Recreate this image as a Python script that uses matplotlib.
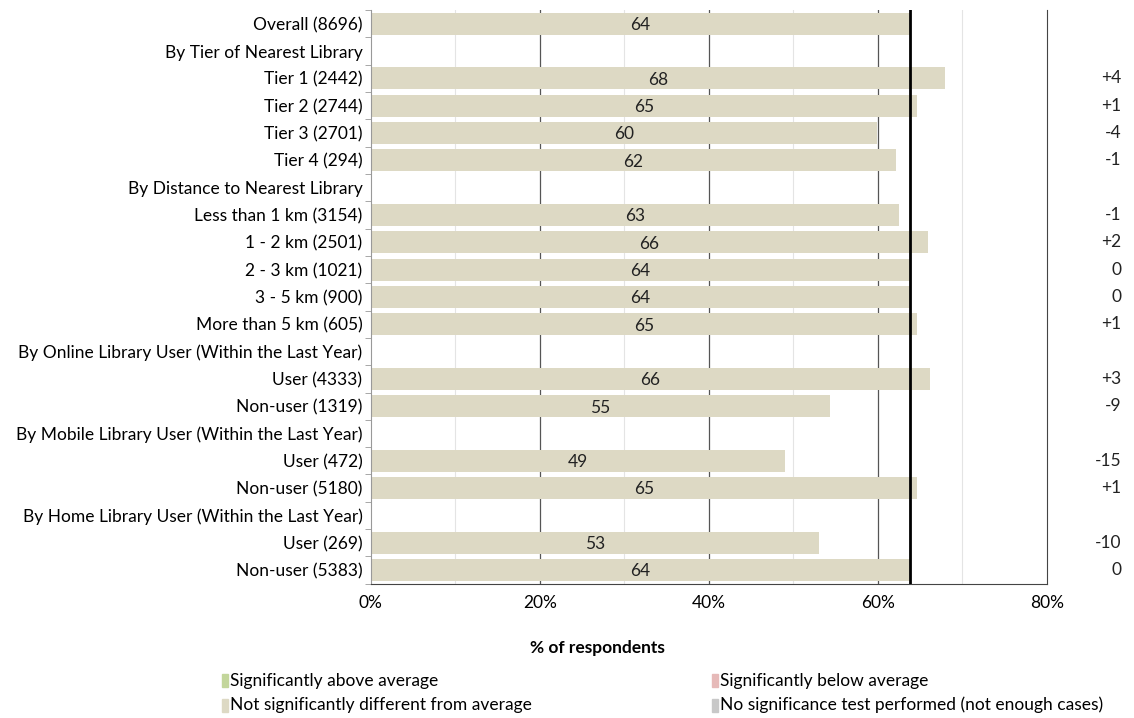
import numpy as np
import matplotlib.pyplot as plt
from matplotlib.patches import Rectangle

plt.rcParams['font.family'] = ['Lato', 'DejaVu Sans']

# rows top to bottom; None = group header row
labels = ['Overall (8696)', 'By Tier of Nearest Library',
          'Tier 1 (2442)', 'Tier 2 (2744)', 'Tier 3 (2701)', 'Tier 4 (294)',
          'By Distance to Nearest Library',
          'Less than 1 km (3154)', '1 - 2 km (2501)', '2 - 3 km (1021)',
          '3 - 5 km (900)', 'More than 5 km (605)',
          'By Online Library User (Within the Last Year)',
          'User (4333)', 'Non-user (1319)',
          'By Mobile Library User (Within the Last Year)',
          'User (472)', 'Non-user (5180)',
          'By Home Library User (Within the Last Year)',
          'User (269)', 'Non-user (5383)']
values = [63.8, None, 68.0, 64.7, 59.9, 62.2, None,
          62.5, 66.0, 63.8, 63.8, 64.7, None,
          66.2, 54.4, None, 49.0, 64.7, None, 53.1, 63.8]
shown = ['64', None, '68', '65', '60', '62', None,
         '63', '66', '64', '64', '65', None,
         '66', '55', None, '49', '65', None, '53', '64']
diffs = ['', '', '+4', '+1', '-4', '-1', '',
         '-1', '+2', '0', '0', '+1', '',
         '+3', '-9', '', '-15', '+1', '', '-10', '0']
average = 63.8

legend_items = ['Significantly above average', 'Significantly below average',
                'Not significantly different from average',
                'No significance test performed (not enough cases)']
legend_colors = ['#c3d69b', '#e6b9b8', '#ddd9c4', '#c8c8c8']
bar_color = '#ddd9c4'
fs = 12.5

fig = plt.figure(figsize=(11.34, 7.18), dpi=100)
ax = fig.add_axes([0.327, 0.187, 0.596, 0.799])

n = len(labels)
y = np.arange(n)
for i, v in enumerate(values):
    if v is None:
        continue
    ax.barh(y[i], v, height=0.8, color=bar_color, zorder=2)
    ax.text(v / 2, y[i] + 0.05, shown[i], ha='center', va='center', fontsize=fs,
            color='#222222', zorder=3)
    ax.text(1.11, y[i], diffs[i], transform=ax.get_yaxis_transform(),
            ha='right', va='center', fontsize=fs, color='#222222')

for x in [10, 30, 50, 70]:
    ax.axvline(x, color='#e4e4e4', lw=0.8, zorder=1)
for x in [20, 40, 60]:
    ax.axvline(x, color='#555555', lw=0.9, zorder=1)
ax.axvline(average, color='black', lw=2, zorder=4)

ax.set_xlim(0, 80)
ax.set_ylim(n - 0.5, -0.5)
ax.set_xticks([0, 20, 40, 60, 80])
ax.set_xticklabels(['0%', '20%', '40%', '60%', '80%'], fontsize=fs)
ax.set_yticks(y)
ax.set_yticklabels(labels, fontsize=fs)
ax.set_yticks(np.arange(n + 1) - 0.5, minor=True)
ax.tick_params(axis='y', which='major', length=0, pad=6)
ax.tick_params(axis='y', which='minor', length=4, color='#999999')
ax.tick_params(axis='x', length=0, pad=8)
ax.spines['top'].set_visible(False)
ax.spines['left'].set_color('#999999')
ax.spines['right'].set_color('#444444')
ax.spines['bottom'].set_color('#444444')

fig.text(0.527, 0.097, '% of respondents', ha='center', va='center',
         fontsize=fs, fontweight='bold')

pos = [(0.196, 0.052), (0.628, 0.052), (0.196, 0.018), (0.628, 0.018)]
for (px, py), txt, col in zip(pos, legend_items, legend_colors):
    fig.add_artist(Rectangle((px, py - 0.009), 0.005, 0.018,
                             transform=fig.transFigure, color=col))
    fig.text(px + 0.007, py, txt, ha='left', va='center', fontsize=fs)

fig.savefig('out.png', dpi=100)
